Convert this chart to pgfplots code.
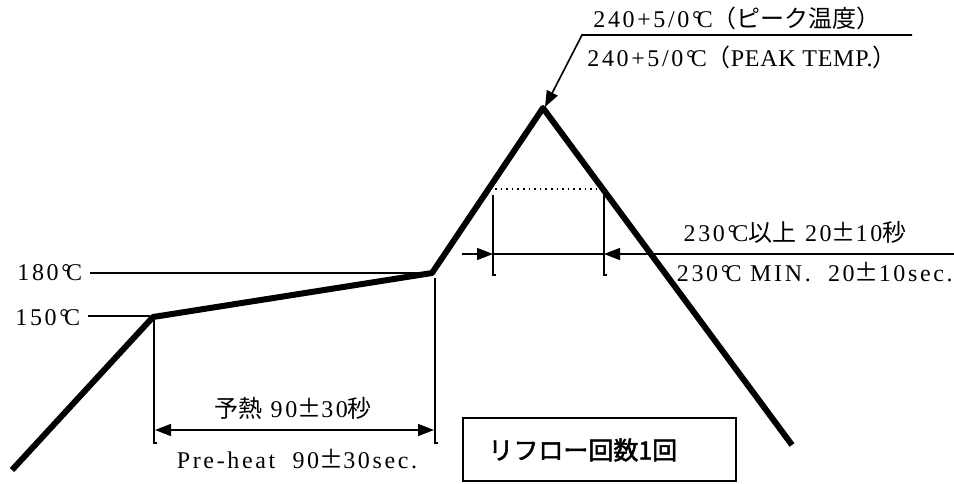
\documentclass[border=0pt]{standalone}
\usepackage{pgfplots}
\pgfplotsset{compat=1.18}
\usepackage{fontspec}
\setmainfont[LetterSpace=11]{Liberation Serif}
\newfontfamily\cjk{Noto Sans CJK JP}
\newfontfamily\cjkm[FakeBold=2]{Noto Sans CJK JP}
\usetikzlibrary{arrows.meta}
\newcommand\C{°\kern-0.2em C}
\newcommand\PM{{\cjk ±}}

\begin{document}
\begin{tikzpicture}
\begin{axis}[
    scale only axis,
    width=477pt,
    height=241.5pt,
    xmin=0, xmax=954,
    ymin=0, ymax=483,
    y dir=reverse,
    hide axis,
    clip=false,
]

% reflow profile
\addplot[black, line width=3pt, line join=round] coordinates {
    (12,470) (153,317) (432,273) (543,108) (792,445)
};

% temperature reference lines
\addplot[black, line width=0.8pt] coordinates {(88,316) (150,316)};
\addplot[black, line width=0.8pt] coordinates {(90,273) (430,273)};
\node[anchor=west, inner sep=0pt, font=\fontsize{12}{14}\selectfont] at (axis cs:17,273) {180\C};
\node[anchor=west, inner sep=0pt, font=\fontsize{12}{14}\selectfont] at (axis cs:15,318) {150\C};

% pre-heat dimension
\draw[line width=0.8pt] (axis cs:154,318) -- (axis cs:154,443) -- (axis cs:157,443);
\draw[line width=0.8pt] (axis cs:435,278) -- (axis cs:435,443) -- (axis cs:438,443);
\draw[line width=0.8pt, {Triangle[length=8pt,width=6pt]}-{Triangle[length=8pt,width=6pt]}]
    (axis cs:155,430) -- (axis cs:434,430);
\node[font=\fontsize{12}{14}\selectfont] at (axis cs:293,408) {{\cjk 予熱}~90\PM30{\cjk 秒}};
\node[font=\fontsize{12}{14}\selectfont] at (axis cs:297,459) {Pre-heat~~90\PM30sec.};

% peak leader
\draw[line width=0.8pt, -{Triangle[length=8pt,width=6pt]}]
    (axis cs:912,35) -- (axis cs:582,35) -- (axis cs:545,107);
\node[anchor=west, inner sep=0pt, font=\fontsize{12}{14}\selectfont] at (axis cs:593,18) {240+5/0\C{\cjk （ピーク温度）}};
\node[anchor=west, inner sep=0pt, font=\fontsize{12}{14}\selectfont] at (axis cs:587,57) {240+5/0\C{\cjk （}{\addfontfeatures{LetterSpace=3}PEAK TEMP.}{\cjk ）}};

% above 230 C
\draw[line width=0.8pt, dotted] (axis cs:495,189) -- (axis cs:603,189);
\draw[line width=0.8pt] (axis cs:493,195) -- (axis cs:493,275) -- (axis cs:496,275);
\draw[line width=0.8pt] (axis cs:604,195) -- (axis cs:604,275) -- (axis cs:607,275);
\draw[line width=0.8pt, -{Triangle[length=8pt,width=6pt]}] (axis cs:462,254) -- (axis cs:493,254);
\draw[line width=0.8pt] (axis cs:493,254) -- (axis cs:604,254);
\draw[line width=0.8pt, -{Triangle[length=8pt,width=6pt]}] (axis cs:954,254) -- (axis cs:604,254);
\node[font=\fontsize{12}{14}\selectfont] at (axis cs:795,232) {230\C{\cjk 以上}~20\PM10{\cjk 秒}};
\node[anchor=east, inner sep=0pt, font=\fontsize{12}{14}\selectfont] at (axis cs:953,272) {230\C~MIN.~~20\PM10sec.};

% reflow count box
\draw[line width=0.8pt] (axis cs:463,418) rectangle (axis cs:736,481);
\node[anchor=west, inner sep=0pt, font=\cjkm\fontsize{12.5}{14}\selectfont] at (axis cs:488,450) {リフロー回数1回};

\end{axis}
\pgfresetboundingbox
\path (current axis.south west) rectangle (current axis.north east);
\end{tikzpicture}
\end{document}
